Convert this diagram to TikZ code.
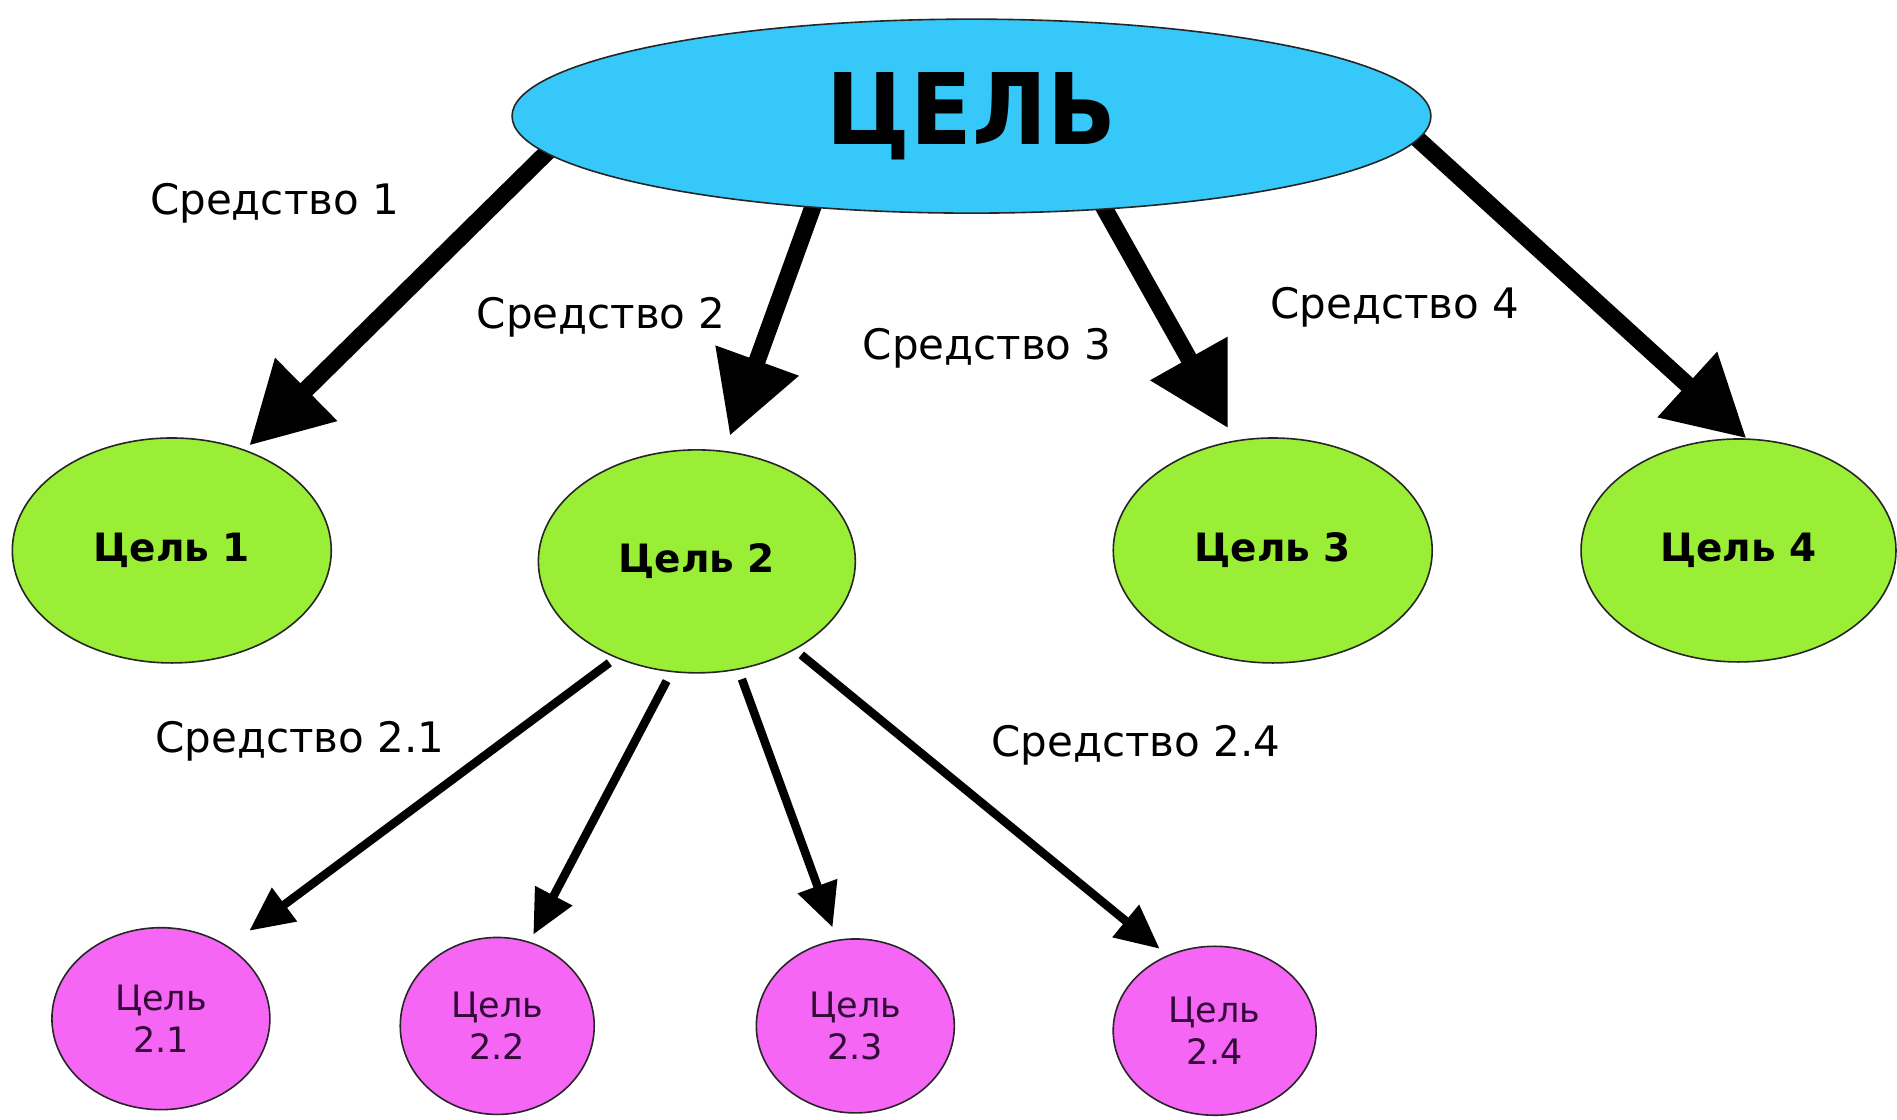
\documentclass[tikz,border=0pt]{standalone}
\usepackage{fontspec}
\setmainfont{DejaVu Sans}
\usetikzlibrary{arrows.meta,shapes.geometric,backgrounds}
\definecolor{cyanfill}{RGB}{53,200,248}
\definecolor{greenfill}{RGB}{154,238,53}
\definecolor{pinkfill}{RGB}{245,102,245}
\definecolor{pinktext}{RGB}{50,10,55}
\tikzset{
  goal/.style={ellipse, draw=black!85, line width=1.6pt, inner sep=0pt},
  topgoal/.style={goal, fill=cyanfill, minimum width=919pt, minimum height=194pt,
    font=\fontsize{95}{95}\selectfont\bfseries},
  subgoal/.style={goal, fill=greenfill, font=\fontsize{39}{39}\selectfont\bfseries},
  leafgoal/.style={goal, fill=pinkfill, text=pinktext, align=center,
    font=\fontsize{35}{42}\selectfont},
  means/.style={font=\fontsize{42}{42}\selectfont, inner sep=0pt},
  bigarrow/.style={line width=17pt, -{Triangle[length=80pt,width=84pt]}},
  smallarrow/.style={line width=8.5pt, -{Triangle[length=44pt,width=40pt]}}
}
\begin{document}
\begin{tikzpicture}[x=1.21pt, y=-1.21pt]
\useasboundingbox (0,0) rectangle (1568,925);
% nodes
\node[topgoal] (top) at (803,96) {\scalebox{0.95}[1.04]{ЦЕЛЬ}};
\node[subgoal, minimum width=319pt, minimum height=225pt] (c1) at (142,455) {Цель 1};
\node[subgoal, minimum width=317pt, minimum height=223pt] (c2) at (576,464) {Цель 2};
\node[subgoal, minimum width=319pt, minimum height=225pt] (c3) at (1052,455) {Цель 3};
\node[subgoal, minimum width=315pt, minimum height=223pt] (c4) at (1437,455) {Цель 4};
\node[leafgoal, minimum width=218pt, minimum height=182pt] (m1) at (133,842) {Цель\\2.1};
\node[leafgoal, minimum width=194pt, minimum height=177pt] (m2) at (411,848) {Цель\\2.2};
\node[leafgoal, minimum width=198pt, minimum height=174pt] (m3) at (707,848) {Цель\\2.3};
\node[leafgoal, minimum width=203pt, minimum height=169pt] (m4) at (1004,852) {Цель\\2.4};
% labels
\node[means] (s1) at (227,168) {Средство 1};
\node[means] (s2) at (497,262) {Средство 2};
\node[means] (s3) at (816,288) {Средство 3};
\node[means] (s4) at (1153,254) {Средство 4};
\node[means] (s21) at (248,613) {Средство 2.1};
\node[means] (s24) at (939,616) {Средство 2.4};
% connectors
\begin{scope}[on background layer]
\fill[white] (0,0) rectangle (1568,925);
\draw[bigarrow, shorten <=-12pt, shorten >=6pt] (top.185) -- (c1.54);
\draw[bigarrow, shorten <=-12pt, shorten >=16pt] (top.210) -- (c2.76);
\draw[bigarrow, shorten <=-12pt, shorten >=14pt] (top.325) -- (c3.109);
\draw[bigarrow, shorten <=-12pt, shorten >=0pt] (top.357) -- (c4.86);
\draw[smallarrow, shorten <=8pt, shorten >=26pt] (c2.230) -- (m1.47);
\draw[smallarrow, shorten <=10pt, shorten >=8pt] (c2.257) -- (m2.69);
\draw[smallarrow, shorten <=10pt, shorten >=13pt] (c2.291) -- (m3.102);
\draw[smallarrow, shorten <=8pt, shorten >=10pt] (c2.318) -- (m4.122);
\end{scope}
\end{tikzpicture}
\end{document}
